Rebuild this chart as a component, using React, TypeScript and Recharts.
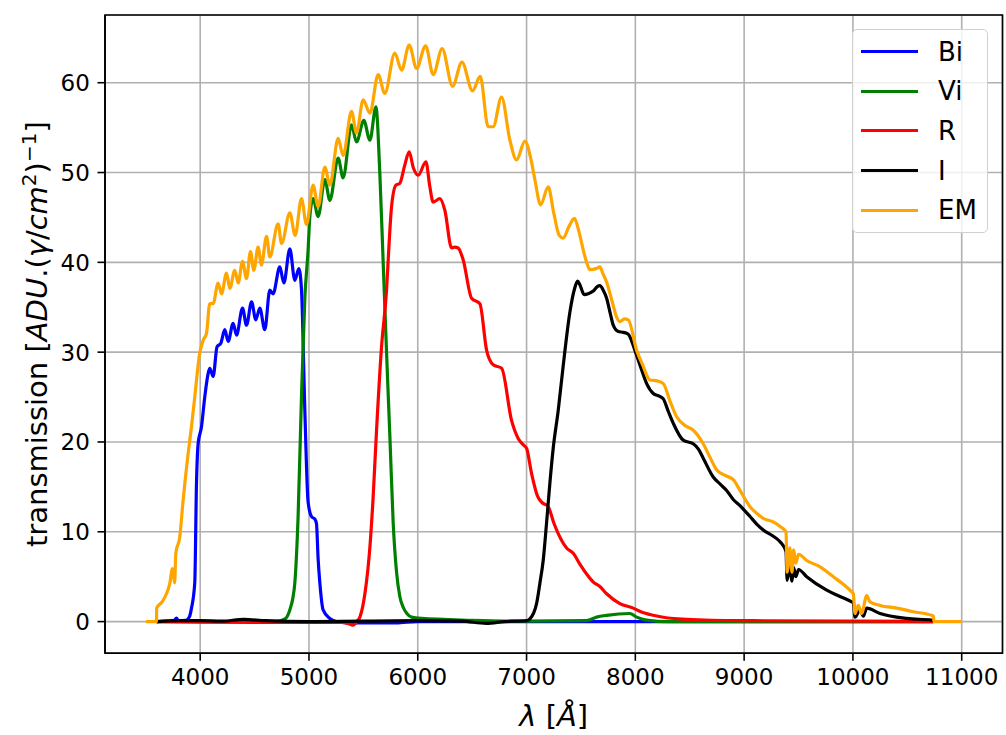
import React from "react";
import {
  CartesianGrid,
  Label,
  Line,
  LineChart,
  ReferenceArea,
  XAxis,
  YAxis,
} from "recharts";

// filter transmission curves, [wavelength Å, ADU.(γ/cm²)^-1]
const BI: number[][] = [
  [3600, 0], [3700, 0.05], [3760, 0.1], [3782, 0.4], [3800, 0.1], [3870, 0.15], [3900, 0.5],
  [3920, 1.5], [3950, 4.3], [3966, 15.4], [3981, 19.8], [4012, 21.7], [4042, 25.0], [4073, 27.6],
  [4088, 28.2], [4119, 27.3], [4155, 30.6], [4190, 31.0], [4226, 32.5], [4257, 31.2], [4303, 33.2],
  [4334, 31.9], [4389, 34.9], [4426, 33.0], [4472, 35.6], [4511, 33.6], [4548, 34.9], [4594, 32.5],
  [4640, 36.9], [4670, 36.5], [4732, 39.5], [4769, 37.7], [4824, 41.5], [4870, 38.0], [4907, 39.3],
  [4931, 37.0], [4962, 23.5], [4992, 13.3], [5023, 11.7], [5054, 11.4], [5069, 10.9], [5084, 7.0],
  [5100, 4.3], [5130, 1.3], [5192, 0.35], [5250, 0], [5400, -0.15], [5800, -0.15], [6000, 0],
  [7000, 0], [8500, 0], [10740, 0],
];

const VI: number[][] = [
  [3600, 0], [4700, 0], [4780, 0.3], [4824, 1.3], [4850, 2.5], [4870, 4.3], [4900, 11.7],
  [4931, 25.0], [4962, 36.0], [4992, 41.4], [5008, 45.1], [5038, 47.1], [5084, 45.1], [5146, 49.2],
  [5192, 46.9], [5268, 51.6], [5314, 49.4], [5391, 55.3], [5437, 53.4], [5504, 55.8], [5560, 53.6],
  [5615, 57.3], [5651, 50.0], [5682, 40.0], [5713, 30.0], [5744, 20.5], [5774, 11.0], [5805, 5.5],
  [5835, 2.8], [5866, 1.6], [5900, 0.9], [5943, 0.5], [6035, 0.35], [6500, 0.15], [7000, 0.05],
  [7550, 0.1], [7644, 0.5], [7736, 0.7], [7950, 0.9], [8012, 0.5], [8104, 0.17], [8300, 0],
  [10740, 0],
];

const R: number[][] = [
  [3600, 0], [4000, -0.05], [4500, -0.1], [5000, -0.1], [5300, -0.1], [5380, -0.3], [5406, -0.4],
  [5440, 0], [5468, 0.5], [5514, 3.1], [5560, 8.3], [5590, 13.9], [5621, 21.3], [5667, 30.6],
  [5713, 36.9], [5736, 42.0], [5759, 46.2], [5799, 48.6], [5835, 48.8], [5880, 50.8], [5921, 52.3],
  [5960, 50.5], [6004, 49.7], [6075, 51.2], [6110, 48.5], [6142, 46.7], [6203, 47.1], [6249, 45.8],
  [6311, 41.6], [6340, 41.7], [6371, 41.6], [6417, 40.3], [6495, 36.0], [6571, 35.4], [6633, 30.2],
  [6693, 28.6], [6771, 28.2], [6862, 22.4], [6923, 20.4], [6969, 19.7], [7000, 19.3], [7046, 16.5],
  [7100, 14.0], [7138, 13.3], [7199, 12.8], [7250, 11.0], [7291, 9.8], [7368, 8.2], [7429, 7.6],
  [7490, 6.4], [7552, 5.3], [7614, 4.4], [7674, 3.9], [7736, 3.1], [7858, 2.0], [7981, 1.5],
  [8050, 1.1], [8165, 0.7], [8300, 0.4], [8472, 0.25], [8700, 0.15], [9084, 0.1], [10740, 0.02],
];

const I: number[][] = [
  [3600, 0], [3800, 0.1], [4000, 0.1], [4200, 0.05], [4400, 0.25], [4600, 0.1], [5000, 0],
  [5500, 0.05], [6000, 0.1], [6400, 0.05], [6630, -0.2], [6800, 0], [7000, 0.1], [7031, 0.3],
  [7092, 2.0], [7123, 4.3], [7153, 6.8], [7184, 11.0], [7215, 15.5], [7245, 19.3], [7291, 23.5],
  [7337, 28.5], [7399, 34.5], [7440, 37.0], [7469, 37.9], [7490, 37.5], [7530, 36.4], [7567, 36.5],
  [7613, 36.8], [7650, 37.3], [7674, 37.4], [7705, 36.9], [7736, 36.0], [7770, 34.3], [7797, 33.0],
  [7843, 32.3], [7890, 32.2], [7935, 32.0], [7996, 30.2], [8050, 28.3], [8104, 26.5], [8165, 25.4],
  [8220, 25.1], [8257, 24.8], [8300, 23.5], [8348, 22.1], [8440, 20.2], [8532, 19.8], [8580, 19.2],
  [8624, 18.2], [8716, 16.1], [8780, 15.3], [8839, 14.6], [8900, 13.6], [8962, 12.9], [9054, 11.7],
  [9120, 10.8], [9176, 10.2], [9268, 9.5], [9330, 8.9], [9385, 7.8], [9395, 4.6], [9420, 6.3],
  [9440, 4.5], [9455, 6.0], [9475, 5.0], [9500, 5.8], [9575, 5.0], [9759, 3.5], [9881, 2.8],
  [9989, 2.2], [10004, 2.1], [10019, 0.5], [10065, 1.3], [10096, 0.6], [10127, 1.5], [10249, 0.9],
  [10494, 0.35], [10724, 0.17], [10740, 0.1],
];

const EM: number[][] = [
  [3500, 0], [3598, 0], [3600, 1.5], [3650, 2.2], [3690, 3.1], [3720, 4.2], [3745, 5.9], [3765, 4.3],
  [3776, 7.6], [3812, 9.4], [3843, 13.5], [3889, 18.7], [3920, 21.7], [3950, 25.0], [3996, 29.9],
  [4027, 31.3], [4058, 32.1], [4088, 35.4], [4119, 35.4], [4165, 37.7], [4196, 36.5], [4242, 38.8],
  [4272, 37.1], [4318, 39.1], [4349, 37.7], [4389, 40.1], [4426, 38.2], [4462, 41.2], [4493, 39.1],
  [4532, 41.7], [4563, 39.7], [4610, 42.9], [4640, 40.6], [4716, 44.3], [4748, 42.1], [4824, 45.5],
  [4873, 43.0], [4931, 47.1], [4977, 44.2], [5038, 48.6], [5084, 46.2], [5146, 50.6], [5192, 48.6],
  [5268, 53.8], [5314, 51.9], [5391, 56.8], [5437, 54.4], [5498, 58.1], [5560, 56.6], [5636, 60.9],
  [5697, 58.8], [5789, 63.3], [5851, 61.4], [5921, 64.2], [5989, 61.6], [6072, 64.1], [6142, 60.9],
  [6224, 63.8], [6320, 59.6], [6406, 62.3], [6503, 59.1], [6574, 60.7], [6647, 55.1], [6693, 55.1],
  [6770, 58.4], [6847, 53.6], [6908, 51.4], [6985, 53.5], [7040, 51.5], [7077, 49.2], [7129, 46.4],
  [7199, 48.4], [7250, 45.5], [7300, 43.0], [7337, 42.7], [7390, 44.0], [7440, 44.9], [7480, 43.5],
  [7521, 41.4], [7552, 40.0], [7582, 39.2], [7640, 39.3], [7674, 39.5], [7700, 38.8], [7736, 37.8],
  [7790, 35.5], [7828, 33.9], [7858, 33.4], [7900, 33.7], [7935, 33.6], [8012, 30.2], [8070, 28.5],
  [8134, 26.9], [8200, 26.8], [8257, 26.5], [8320, 24.5], [8380, 22.8], [8460, 21.8], [8532, 21.3],
  [8624, 19.8], [8690, 18.2], [8747, 16.9], [8820, 16.3], [8900, 15.8], [8962, 14.6], [9054, 12.8],
  [9120, 12.0], [9176, 11.5], [9268, 11.1], [9330, 10.6], [9385, 10.0], [9395, 5.5], [9420, 8.2],
  [9440, 5.5], [9455, 8.0], [9475, 6.5], [9500, 7.5], [9575, 6.8], [9698, 6.1], [9820, 5.0],
  [9989, 3.3], [10004, 3.1], [10019, 0.9], [10049, 1.8], [10080, 0.9], [10127, 2.9], [10157, 2.2],
  [10249, 1.8], [10402, 1.5], [10555, 1.1], [10724, 0.7], [10740, 0.6], [10745, 0], [11000, 0],
];

const X_TICKS = [4000, 5000, 6000, 7000, 8000, 9000, 10000, 11000];
const Y_TICKS = [0, 10, 20, 30, 40, 50, 60];

const SERIES = [
  { name: "Bi", data: BI, color: "#0000ff" },
  { name: "Vi", data: VI, color: "#008000" },
  { name: "R", data: R, color: "#ff0000" },
  { name: "I", data: I, color: "#000000" },
  { name: "EM", data: EM, color: "#ffa500" },
];

const FONT = "DejaVu Sans";
const TICK_FS = 23;
const LABEL_FS = 29;
const toPts = (s: number[][]) => s.map(([x, y]) => ({ x, y }));

function XTick({ x, y, payload }: any) {
  return (
    <text x={x} y={y + 24} textAnchor="middle" fontSize={TICK_FS} fontFamily={FONT} fill="#000">
      {payload.value}
    </text>
  );
}

function YTick({ x, y, payload }: any) {
  return (
    <text x={x} y={y + 8.4} textAnchor="end" fontSize={TICK_FS} fontFamily={FONT} fill="#000">
      {payload.value}
    </text>
  );
}

function XTitle({ viewBox }: any) {
  const { x, y, width } = viewBox;
  return (
    <text x={x + width / 2} y={y + 73} textAnchor="middle" fontSize={LABEL_FS} fontFamily={FONT} fill="#000">
      <tspan fontStyle="italic">λ</tspan> [<tspan fontStyle="italic">Å</tspan>]
    </text>
  );
}

function YTitle({ viewBox }: any) {
  const { x, y, height } = viewBox;
  return (
    <text
      transform={`translate(${x + 47}, ${y + height / 2}) rotate(-90)`}
      textAnchor="middle"
      fontSize={LABEL_FS}
      fontFamily={FONT}
      fill="#000"
    >
      transmission [<tspan fontStyle="italic">ADU</tspan>.(<tspan fontStyle="italic">γ</tspan>/
      <tspan fontStyle="italic">cm</tspan>
      <tspan fontSize={20} dy={-11}>2</tspan>
      <tspan dy={11}>)</tspan>
      <tspan fontSize={20} dy={-11}>−1</tspan>
      <tspan dy={11}>]</tspan>
    </text>
  );
}

function LegendBox() {
  return (
    <div
      style={{
        position: "absolute", left: 852, top: 29, width: 136, height: 204, boxSizing: "border-box",
        border: "1.5px solid #d0d0d0", borderRadius: 5, background: "rgba(255,255,255,0.8)",
        fontFamily: FONT, fontSize: 26, lineHeight: "28px",
      }}
    >
      {SERIES.map((s, i) => (
        <div key={s.name} style={{ position: "absolute", left: 0, top: 21.7 + i * 39.6 - 14, height: 28, display: "flex", alignItems: "center" }}>
          <div style={{ marginLeft: 8, width: 57, height: 3.2, background: s.color }} />
          <span style={{ marginLeft: 20 }}>{s.name}</span>
        </div>
      ))}
    </div>
  );
}

export default function App() {
  const axisStyle = { stroke: "#000", strokeWidth: 1.6 };
  return (
    <div style={{ position: "absolute", left: 0, top: 0, width: 1006, height: 735, background: "#fff" }}>
      <LineChart width={1006} height={735} margin={{ top: 15, right: 3.5, bottom: 0, left: 0 }}>
        <CartesianGrid stroke="#b0b0b0" strokeWidth={1.6} />
        <XAxis
          dataKey="x"
          type="number"
          domain={[3125, 11375]}
          ticks={X_TICKS}
          allowDataOverflow
          height={81.7}
          tick={XTick}
          tickSize={7.5}
          tickMargin={0}
          tickLine={axisStyle}
          axisLine={axisStyle}
        >
          <Label content={XTitle} />
        </XAxis>
        <YAxis
          type="number"
          domain={[-3.53, 67.54]}
          ticks={Y_TICKS}
          allowDataOverflow
          width={105}
          tick={YTick}
          tickSize={7.5}
          tickMargin={7.6}
          tickLine={axisStyle}
          axisLine={axisStyle}
        >
          <Label content={YTitle} />
        </YAxis>
        {SERIES.map((s) => (
          <Line
            key={s.name}
            data={toPts(s.data)}
            dataKey="y"
            name={s.name}
            type="monotone"
            stroke={s.color}
            strokeWidth={3.2}
            strokeLinejoin="round"
            dot={false}
            activeDot={false}
            isAnimationActive={false}
          />
        ))}
        <ReferenceArea x1={3125} x2={11375} y1={-3.53} y2={67.54} fill="none" stroke="#000" strokeWidth={1.6} ifOverflow="visible" />
      </LineChart>
      <LegendBox />
    </div>
  );
}
